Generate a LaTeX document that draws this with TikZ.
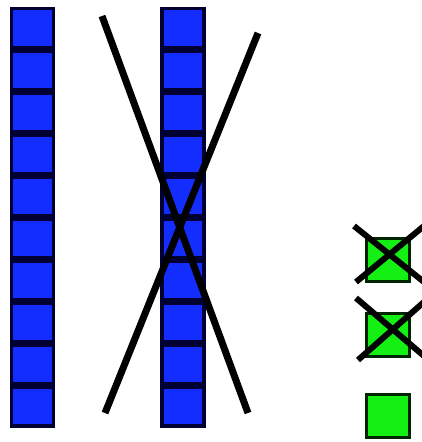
\documentclass[tikz,border=0pt]{standalone}
\begin{document}
\begin{tikzpicture}[x=1pt,y=-1pt,
  bluesq/.style={draw=blue!20!black, fill=bluefill, line width=3.5pt, minimum width=42pt, minimum height=38.6pt, inner sep=0pt, outer sep=0pt},
  greensq/.style={draw=green!15!black, fill=greenfill, line width=3pt, minimum width=43pt, minimum height=43pt, inner sep=0pt},
  bigcross/.style={line width=7pt, black},
  smallcross/.style={line width=6pt, black}]
\definecolor{bluefill}{RGB}{20,45,255}
\definecolor{greenfill}{RGB}{20,240,20}
\useasboundingbox (0,0) rectangle (421,442);
\foreach \i in {0,...,9}{
  \node[bluesq] (a\i) at (32.5, 28+42.1*\i) {};
  \node[bluesq] (b\i) at (183, 28+42.1*\i) {};
}
\node[greensq] (g1) at (388, 260) {};
\node[greensq] (g2) at (388, 335) {};
\node[greensq] (g3) at (388, 416) {};
\coordinate (x1a) at (102,16);
\coordinate (x1b) at (248,413);
\coordinate (x2a) at (258,33);
\coordinate (x2b) at (105,413);
\draw[bigcross] (x1a) -- (x1b);
\draw[bigcross] (x2a) -- (x2b);
\coordinate (p1a) at (354,226);
\coordinate (p1b) at (424,282);
\coordinate (p2a) at (356,282);
\coordinate (p2b) at (424,226);
\coordinate (q1a) at (356,298);
\coordinate (q1b) at (424,356);
\coordinate (q2a) at (358,360);
\coordinate (q2b) at (424,302);
\draw[smallcross] (p1a) -- (p1b);
\draw[smallcross] (p2a) -- (p2b);
\draw[smallcross] (q1a) -- (q1b);
\draw[smallcross] (q2a) -- (q2b);
\end{tikzpicture}
\end{document}
